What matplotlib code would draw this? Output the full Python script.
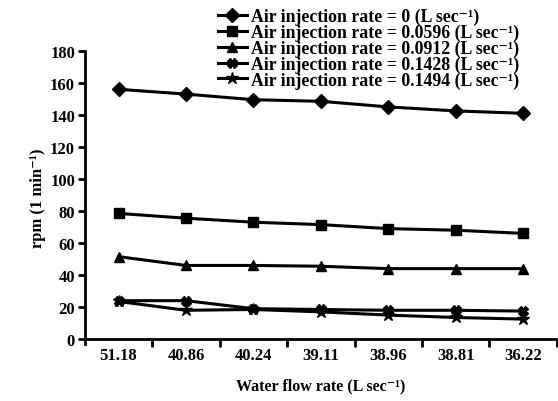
import matplotlib
matplotlib.use("Agg")
import matplotlib.pyplot as plt
import numpy as np

categories = ["51.18", "40.86", "40.24", "39.11", "38.96", "38.81", "36.22"]
air_rates = ["0", "0.0596", "0.0912", "0.1428", "0.1494"]
rpm_0 = [156, 153, 149.5, 148.5, 145, 142.5, 141]
rpm_0596 = [78.5, 75.5, 73, 71.5, 69, 68, 66]
rpm_0912 = [51.5, 46, 46, 45.5, 44, 44, 44]
rpm_1428 = [24, 24, 19, 18.5, 18, 18, 17.5]
rpm_1494 = [23.5, 18, 18.5, 17, 15, 13.5, 12.5]
series = [rpm_0, rpm_0596, rpm_0912, rpm_1428, rpm_1494]
markers = ["D", "s", "^", "X", "*"]
msizes = [7, 7, 7, 7, 9]
yticks = [0, 20, 40, 60, 80, 100, 120, 140, 160, 180]

plt.rcParams['font.family'] = ['Liberation Serif', 'DejaVu Serif']
plt.rcParams['font.weight'] = 'bold'

fig = plt.figure(figsize=(5.58, 4.02), dpi=100)
ax = fig.add_axes([0.152, 0.142, 0.846, 0.729])

x = np.arange(len(categories))
for vals, m, ms, rate in zip(series, markers, msizes, air_rates):
    ax.plot(x, vals, color='black', lw=2.2, marker=m, ms=ms,
            label=f"Air injection rate = {rate} (L sec\u207b\u00b9)")

ax.set_xlim(-0.5, 6.5)
ax.set_ylim(-3, 180)
ax.spines['top'].set_visible(False)
ax.spines['right'].set_visible(False)
ax.spines['bottom'].set_position(('data', 0))
for s in ['left', 'bottom']:
    ax.spines[s].set_linewidth(2)

ax.set_yticks(yticks)
ax.set_yticklabels([str(v) for v in yticks], fontsize=12, fontweight='bold')
ax.tick_params(axis='y', direction='out', length=5, width=2, pad=2)

ax.set_xticks(x)
ax.set_xticklabels(categories, fontsize=12, fontweight='bold')
ax.tick_params(axis='x', which='major', length=0, pad=6)
ax.set_xticks(np.arange(0.5, 7.0, 1.0), minor=True)
ax.tick_params(axis='x', which='minor', direction='out', length=6, width=2)

ax.set_xlabel("Water flow rate (L sec\u207b\u00b9)", fontsize=11.5, fontweight='bold', labelpad=10)
ax.set_ylabel("rpm (1 min\u207b\u00b9)", fontsize=12, fontweight='bold', labelpad=3)

leg = fig.legend(loc='upper left', bbox_to_anchor=(0.39, 0.978), frameon=False,
                 fontsize=12.8, handlelength=1.65, handletextpad=0.25,
                 labelspacing=-0.08, borderaxespad=0, borderpad=0)

fig.savefig("out.png", dpi=100)
